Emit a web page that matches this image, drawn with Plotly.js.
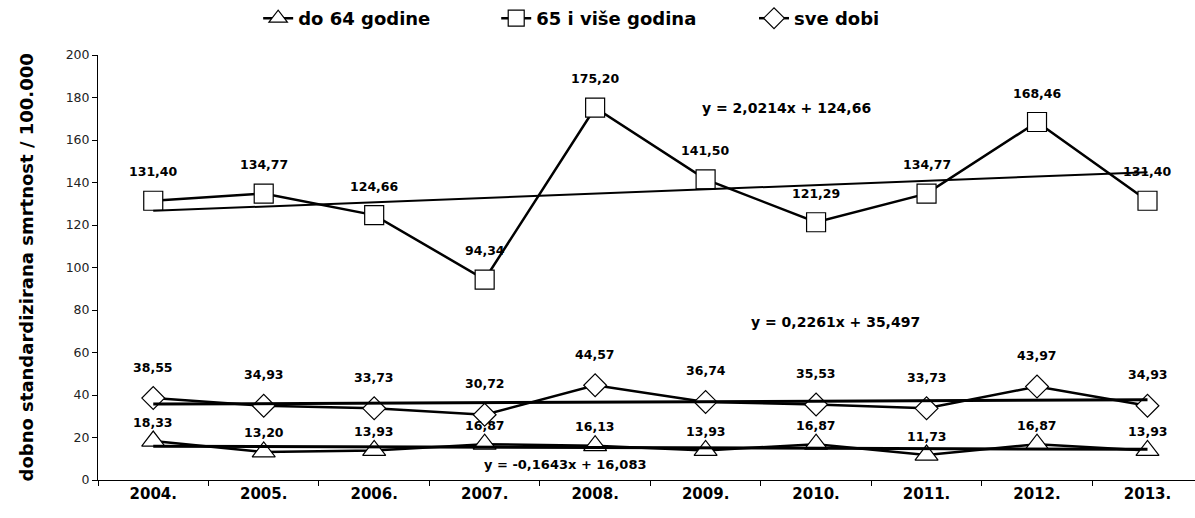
<!DOCTYPE html>
<html>
<head>
<meta charset="utf-8">
<script src="https://cdn.plot.ly/plotly-3.0.1.min.js"></script>
<style>
  html, body { margin: 0; padding: 0; background: #ffffff; }
  #chart { width: 1195px; height: 518px; }
</style>
</head>
<body>
<div id="chart"></div>
<script>
// ---- data ----
const years = ["2004.", "2005.", "2006.", "2007.", "2008.", "2009.", "2010.", "2011.", "2012.", "2013."];
const seriesNames = ["do 64 godine", "65 i više godina", "sve dobi"];
const do64 = [18.33, 13.20, 13.93, 16.87, 16.13, 13.93, 16.87, 11.73, 16.87, 13.93];
const od65 = [131.40, 134.77, 124.66, 94.34, 175.20, 141.50, 121.29, 134.77, 168.46, 131.40];
const sveDobi = [38.55, 34.93, 33.73, 30.72, 44.57, 36.74, 35.53, 33.73, 43.97, 34.93];
// linear trend equations (slope, intercept), x = 1..10
const trendSlope = [-0.1643, 2.0214, 0.2261];
const trendIntercept = [16.083, 124.66, 35.497];
const trendText = ["y = -0,1643x + 16,083", "y = 2,0214x + 124,66", "y = 0,2261x + 35,497"];
const yTicks = [0, 20, 40, 60, 80, 100, 120, 140, 160, 180, 200];

// ---- styling ----
const FONT = "DejaVu Sans, Arial, sans-serif";
const symbols = ["triangle-up", "square", "diamond"];
const mSizes = [20, 19, 17.5];
const labelShift = [19, 29, 31];
const legendIds = ["legend", "legend2", "legend3"];
const legendX = [0.146, 0.363, 0.598];
const seriesData = [do64, od65, sveDobi];

const fmt = v => v.toFixed(2).replace(".", ",");

const dataTraces = seriesData.map((s, i) => ({
  x: years, y: s, type: "scatter", mode: "lines+markers",
  name: seriesNames[i], legend: legendIds[i],
  line: { color: "#000000", width: 2.5 },
  marker: { symbol: symbols[i], size: mSizes[i], color: "#ffffff",
            line: { color: "#000000", width: 1.2 } },
  cliponaxis: false
}));
const trendTraces = seriesData.map((s, i) => ({
  x: [years[0], years[years.length - 1]],
  y: [trendSlope[i] * 1 + trendIntercept[i], trendSlope[i] * years.length + trendIntercept[i]],
  type: "scatter", mode: "lines",
  line: { color: "#000000", width: i === 1 ? 2 : 3 },
  showlegend: false, hoverinfo: "skip"
}));
const traces = [...dataTraces, ...trendTraces];

const annotations = [];
seriesData.forEach((s, i) => {
  s.forEach((v, j) => {
    annotations.push({
      x: j, y: v, xref: "x", yref: "y",
      text: fmt(v), showarrow: false, yshift: labelShift[i],
      font: { family: FONT, size: 12.5, color: "#000000", weight: "bold" }
    });
  });
});
annotations.push({ x: 0.426, y: 7.1, xref: "paper", yref: "y", xanchor: "center", yanchor: "middle",
  text: trendText[0], showarrow: false,
  font: { family: FONT, size: 13, color: "#000000", weight: "bold" } });
annotations.push({ x: 0.628, y: 175, xref: "paper", yref: "y", xanchor: "center", yanchor: "middle",
  text: trendText[1], showarrow: false,
  font: { family: FONT, size: 14, color: "#000000", weight: "bold" } });
annotations.push({ x: 0.672, y: 74.4, xref: "paper", yref: "y", xanchor: "center", yanchor: "middle",
  text: trendText[2], showarrow: false,
  font: { family: FONT, size: 14, color: "#000000", weight: "bold" } });
annotations.push({ x: 0, y: 0.5, xref: "paper", yref: "paper", xanchor: "center", yanchor: "middle",
  xshift: -72, textangle: -90,
  text: "dobno standardizirana smrtnost / 100.000", showarrow: false,
  font: { family: FONT, size: 18, color: "#000000", weight: "bold" } });

const layout = {
  width: 1195, height: 518,
  margin: { l: 98, r: 0, t: 55, b: 38 },
  paper_bgcolor: "#ffffff", plot_bgcolor: "#ffffff",
  font: { family: FONT, color: "#000000" },
  showlegend: true,
  xaxis: {
    type: "category", categoryorder: "array", categoryarray: years,
    range: [-0.5, 9.43],
    showgrid: false, zeroline: false,
    showline: true, linecolor: "#000000", linewidth: 1,
    ticks: "outside", ticklen: 5, tickcolor: "#000000", tickson: "boundaries",
    tickfont: { family: FONT, size: 15, color: "#000000", weight: "bold" },
    fixedrange: true
  },
  yaxis: {
    range: [0, 200], tickvals: yTicks,
    showgrid: false, zeroline: false,
    showline: true, linecolor: "#000000", linewidth: 1,
    ticks: "outside", ticklen: 5, tickcolor: "#000000",
    tickfont: { family: FONT, size: 12.5, color: "#222222" },
    fixedrange: true
  },
  annotations: annotations
};
legendIds.forEach((id, i) => {
  layout[id] = {
    orientation: "h", x: legendX[i], y: 1.087, xanchor: "left", yanchor: "middle",
    font: { family: FONT, size: 18, color: "#000000", weight: "bold" },
    itemwidth: 30, bgcolor: "rgba(0,0,0,0)"
  };
});

Plotly.newPlot("chart", traces, layout, { displayModeBar: false, staticPlot: true });
</script>
</body>
</html>
